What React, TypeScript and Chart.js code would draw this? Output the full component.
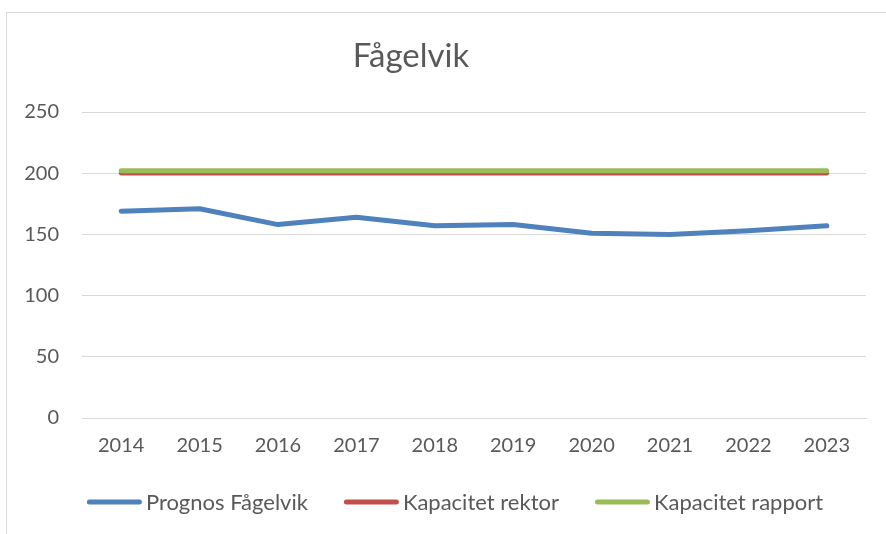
import React, { useEffect, useRef } from "react";
import { Chart, registerables } from "chart.js";

Chart.register(...registerables);

const titleText = "Fågelvik";
const years = ["2014", "2015", "2016", "2017", "2018", "2019", "2020", "2021", "2022", "2023"];
const prognos = [169, 171, 158, 164, 157, 158, 151, 150, 153, 157];
const kapacitetRektor = [200, 200, 200, 200, 200, 200, 200, 200, 200, 200];
const kapacitetRapport = [202, 202, 202, 202, 202, 202, 202, 202, 202, 202];
const seriesNames = ["Prognos Fågelvik", "Kapacitet rektor", "Kapacitet rapport"];
const seriesColors = ["#4f81bd", "#c0504d", "#9bbb59"];

const FONT = "Lato, 'Noto Sans', sans-serif";
const TEXT = "#595959";

const customPlugin = {
  id: "customDecor",
  afterDraw(chart: any) {
    const ctx = chart.ctx;
    ctx.save();
    // title
    ctx.fillStyle = TEXT;
    ctx.font = `33px ${FONT}`;
    ctx.textAlign = "center";
    ctx.textBaseline = "alphabetic";
    ctx.fillText(titleText, 411, 67);
    // legend
    ctx.font = `22px ${FONT}`;
    ctx.textAlign = "left";
    ctx.textBaseline = "middle";
    const sample = 55;
    const gap = 4;
    const spacing = 36;
    const items = chart.data.datasets.map((d: any) => ({
      label: d.label,
      color: d.borderColor,
      w: sample + gap + ctx.measureText(d.label).width,
    }));
    const total = items.reduce((s: number, it: any) => s + it.w, 0) + spacing * (items.length - 1);
    let x = 455 - total / 2;
    const y = 502;
    for (const it of items) {
      ctx.strokeStyle = it.color;
      ctx.lineWidth = 5;
      ctx.lineCap = "round";
      ctx.beginPath();
      ctx.moveTo(x + 2.5, y);
      ctx.lineTo(x + sample - 2.5, y);
      ctx.stroke();
      ctx.fillStyle = TEXT;
      ctx.fillText(it.label, x + sample + gap, y + 1);
      x += it.w + spacing;
    }
    ctx.restore();
  },
};

export default function App() {
  const ref = useRef<HTMLCanvasElement | null>(null);
  useEffect(() => {
    if (!ref.current) return;
    const chart = new Chart(ref.current, {
      type: "line",
      data: {
        labels: years,
        datasets: [
          { label: seriesNames[0], data: prognos, borderColor: seriesColors[0], backgroundColor: seriesColors[0], borderWidth: 5, order: 3 },
          { label: seriesNames[1], data: kapacitetRektor, borderColor: seriesColors[1], backgroundColor: seriesColors[1], borderWidth: 4.5, order: 2 },
          { label: seriesNames[2], data: kapacitetRapport, borderColor: seriesColors[2], backgroundColor: seriesColors[2], borderWidth: 5, order: 1 },
        ].map((d) => ({ ...d, pointRadius: 0, pointHoverRadius: 0, tension: 0, borderCapStyle: "round", borderJoinStyle: "round", fill: false })) as any,
      },
      options: {
        animation: false,
        responsive: false,
        maintainAspectRatio: false,
        layout: { padding: { top: 112, left: 12, right: 20, bottom: 76 } },
        plugins: {
          legend: { display: false },
          title: { display: false },
          tooltip: { enabled: false },
        },
        scales: {
          x: {
            type: "category",
            offset: true,
            grid: { display: false, drawTicks: false },
            border: { display: true, color: "#d9d9d9", width: 1 },
            ticks: { color: TEXT, font: { family: FONT, size: 20 }, padding: 16, maxRotation: 0, autoSkip: false },
            afterFit: (s: any) => { s.height = 40; },
          },
          y: {
            min: 0,
            max: 250,
            grid: { color: "#d9d9d9", lineWidth: 1, drawTicks: false },
            border: { display: false },
            ticks: { stepSize: 50, color: TEXT, font: { family: FONT, size: 20 }, padding: 23 },
            afterFit: (s: any) => { s.width = 70; },
          },
        },
      },
      plugins: [customPlugin],
    });
    return () => chart.destroy();
  }, []);
  return (
    <div style={{ position: "fixed", left: 0, top: 0, width: 886, height: 534, overflow: "hidden", background: "#fff" }}>
      <div style={{ position: "absolute", left: 6, top: 12, width: 1000, height: 1000, borderTop: "1px solid #d9d9d9", borderLeft: "1px solid #d9d9d9" }} />
      <canvas ref={ref} width={886} height={534} style={{ position: "absolute", left: 0, top: 0, width: 886, height: 534 }} />
    </div>
  );
}
